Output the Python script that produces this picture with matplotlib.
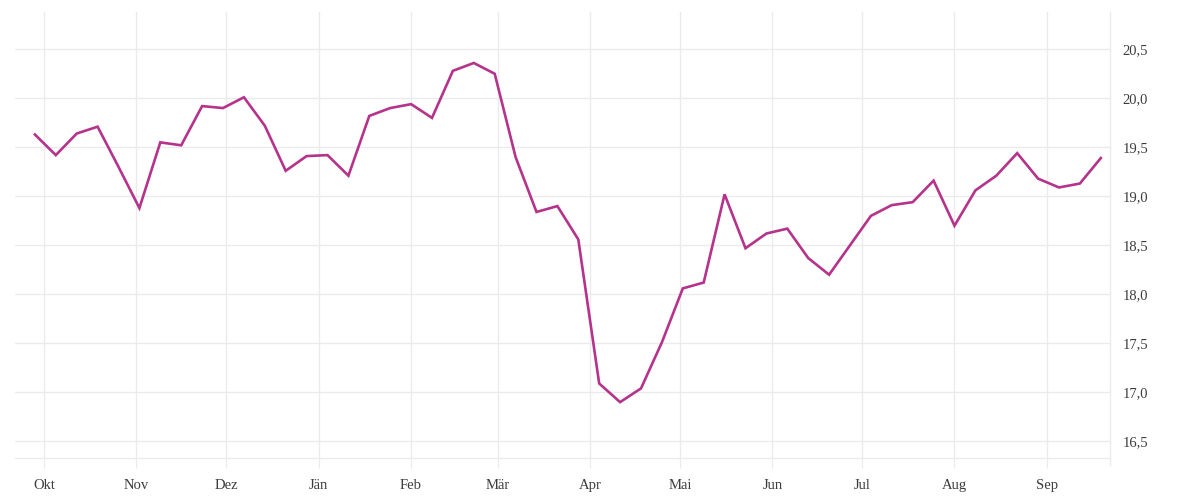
import numpy as np
import pandas as pd
import matplotlib
matplotlib.use("Agg")
import matplotlib.pyplot as plt
import matplotlib.dates as mdates
from matplotlib.ticker import FuncFormatter, FixedLocator

# weekly values, end of Sep 2019 to Sep 2020
start_date = "2019-09-28"
values = [
    19.63, 19.42, 19.64, 19.71, 19.30, 18.88, 19.55, 19.52, 19.92, 19.90,
    20.01, 19.72, 19.26, 19.41, 19.42, 19.21, 19.82, 19.90, 19.94, 19.80,
    20.28, 20.36, 20.25, 19.40, 18.84, 18.90, 18.56, 17.09, 16.90, 17.04,
    17.51, 18.06, 18.12, 19.02, 18.47, 18.62, 18.67, 18.37, 18.20, 18.50,
    18.80, 18.91, 18.94, 19.16, 18.70, 19.06, 19.21, 19.44, 19.18, 19.09,
    19.13, 19.39,
]
dates = pd.date_range(start_date, periods=len(values), freq="7D")

month_labels = ["Okt", "Nov", "Dez", "Jän", "Feb", "Mär", "Apr", "Mai",
                "Jun", "Jul", "Aug", "Sep"]
month_starts = pd.date_range("2019-10-01", periods=12, freq="MS")
y_ticks = [16.5, 17.0, 17.5, 18.0, 18.5, 19.0, 19.5, 20.0, 20.5]

line_color = "#b5338a"
grid_color = "#ebebeb"
text_color = "#3c3c3c"

plt.rcParams["font.family"] = ["Liberation Serif", "DejaVu Serif"]

fig = plt.figure(figsize=(12, 5), dpi=100)
ax = fig.add_axes([15 / 1200, 42 / 500, 1095 / 1200, 446 / 500])

ax.plot(dates, values, color=line_color, lw=1.9, solid_joinstyle="miter")

ax.set_xlim(pd.Timestamp("2019-09-21 08:00"), pd.Timestamp("2020-09-22 02:00"))
ax.set_ylim(16.33, 20.88)

ax.xaxis.set_major_locator(FixedLocator(mdates.date2num(month_starts)))
ax.set_xticklabels(month_labels)
ax.yaxis.set_major_locator(FixedLocator(y_ticks))
ax.yaxis.set_major_formatter(FuncFormatter(lambda v, p: f"{v:.1f}".replace(".", ",")))
ax.yaxis.tick_right()

ax.grid(True, color=grid_color, lw=1)
ax.set_axisbelow(True)

for side in ["top", "left"]:
    ax.spines[side].set_visible(False)
for side in ["bottom", "right"]:
    ax.spines[side].set_color(grid_color)
    ax.spines[side].set_linewidth(1)
# right border runs a bit below the axis, like the month ticks
ax.spines["right"].set_bounds(16.26, 20.88)

ax.tick_params(axis="x", length=7, color=grid_color, pad=8,
               labelsize=10.5, labelcolor=text_color)
ax.tick_params(axis="y", length=0, pad=9, labelsize=10.5, labelcolor=text_color)

plt.savefig("out.png", dpi=100)
plt.close()
